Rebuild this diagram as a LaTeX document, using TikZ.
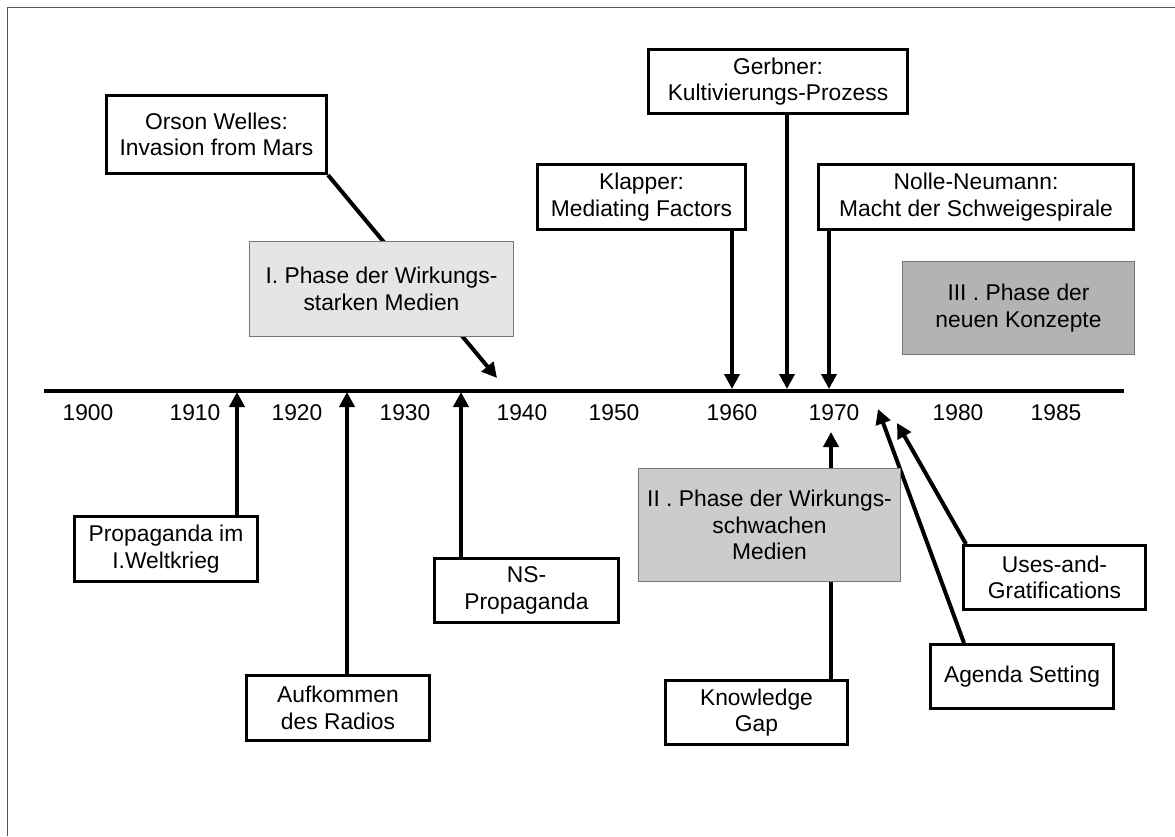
\documentclass[tikz,border=0pt]{standalone}
\usepackage{fontspec}
\setmainfont{Liberation Sans}
\usetikzlibrary{arrows.meta}
\newcommand\diafont{\fontsize{22.8}{26.5}\selectfont}
\definecolor{phaseone}{HTML}{E5E5E5}
\definecolor{phasetwo}{HTML}{CCCCCC}
\definecolor{phasethree}{HTML}{B3B3B3}
\definecolor{phaseedge}{HTML}{777777}
\definecolor{frameline}{HTML}{555555}
\begin{document}
\begin{tikzpicture}[x=1pt,y=-1pt,
  every node/.style={font=\diafont},
  event/.style={draw=black, line width=3pt, fill=white, align=center,
    inner sep=0pt, minimum width=#1},
  event/.default=183pt,
  phasebox/.style={draw=phaseedge, line width=1pt, align=center, inner sep=0pt},
  year/.style={anchor=base, inner sep=0pt},
  arr/.style={line width=4pt, -{Triangle[length=15pt,width=15pt]}},
  axis/.style={line width=4pt}]
\useasboundingbox (0,0) rectangle (1175,836);

% outer frame
\draw[frameline, line width=1pt] (7,836) -- (7,7) -- (1175,7);

% time axis
\coordinate (tlstart) at (44,391);
\coordinate (tlend) at (1124,391);
\draw[axis] (tlstart) -- (tlend);

% year labels
\foreach \yr/\xx in {1900/88,1910/195,1920/297,1930/405,1940/522,1950/614,
                     1960/732,1970/834,1980/958,1985/1056}
  \node[year] (y\yr) at (\xx,420) {\yr};

% target points on the axis
\coordinate (tPropa) at (237,392);
\coordinate (tRadio) at (347,392);
\coordinate (tNS) at (461,392);
\coordinate (tKlapper) at (732,389);
\coordinate (tGerbner) at (787,389);
\coordinate (tNolle) at (829,389);
\coordinate (tWelles) at (497,378);
\coordinate (tKnow) at (831,432);
\coordinate (tUses) at (897,423);
\coordinate (tAgenda) at (878,409);

% events above the axis
\node[event=220pt, minimum height=78pt] (welles) at (216.5,134.5)
  {Orson Welles:\\Invasion from Mars};
\node[event=259pt, minimum height=64pt] (gerbner) at (778,81.5)
  {Gerbner:\\Kultivierungs-Prozess};
\node[event=208pt, minimum height=65pt] (klapper) at (641.5,197)
  {Klapper:\\Mediating Factors};
\node[event=315pt, minimum height=65pt] (nolle) at (976,197)
  {Nolle-Neumann:\\Macht der Schweigespirale};

\draw[arr] (welles.south east) -- (tWelles);
\draw[arr] (klapper.south -| tKlapper) -- (tKlapper);
\draw[arr] (gerbner.south -| tGerbner) -- (tGerbner);
\draw[arr] (nolle.south -| tNolle) -- (tNolle);

% events below the axis
\node[event, minimum height=65pt] (propa) at (166,549)
  {Propaganda im\\I.Weltkrieg};
\node[event, minimum height=65pt] (radio) at (338,708)
  {Aufkommen\\des Radios};
\node[event=184pt, minimum height=64pt] (ns) at (526.5,590.5)
  {NS-\\Propaganda};
\node[event=182pt, minimum height=64pt] (know) at (756.5,712.5)
  {Knowledge\\Gap};
\node[event=182pt, minimum height=64pt] (uses) at (1054.5,577.5)
  {Uses-and-\\Gratifications};
\node[event=183pt, minimum height=64pt] (agenda) at (1022,676.5)
  {Agenda Setting};

\draw[arr] (propa.north -| tPropa) -- (tPropa);
\draw[arr] (radio.north -| tRadio) -- (tRadio);
\draw[arr] (ns.north -| tNS) -- (tNS);
\draw[arr] (know.north -| tKnow) -- (tKnow);
\draw[arr] ([xshift=4pt]uses.north west) -- (tUses);
\draw[arr] ([xshift=-58pt]agenda.north) -- (tAgenda);

% the three phases
\node[phasebox, fill=phaseone, minimum width=264pt, minimum height=95pt]
  (phase1) at (381.5,289) {I. Phase der Wirkungs-\\starken Medien};
\node[phasebox, fill=phasetwo, minimum width=262pt, minimum height=113pt]
  (phase2) at (769.5,525) {II . Phase der Wirkungs-\\schwachen\\Medien};
\node[phasebox, fill=phasethree, minimum width=232pt, minimum height=93pt]
  (phase3) at (1018.5,308) {III . Phase der\\neuen Konzepte};
\end{tikzpicture}
\end{document}
